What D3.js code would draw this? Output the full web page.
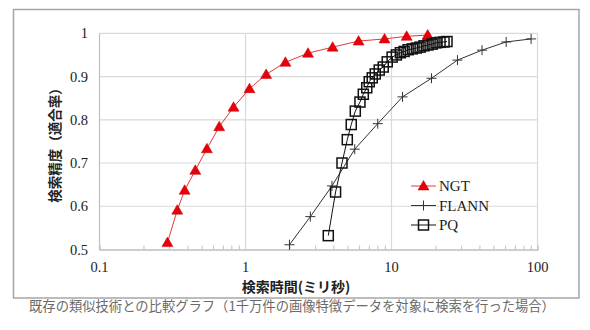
<!DOCTYPE html>
<html>
<head>
<meta charset="utf-8">
<script src="https://cdn.jsdelivr.net/npm/d3@7/dist/d3.min.js"></script>
<style>
  body { margin: 0; background: #fff; }
  svg { display: block; }
</style>
</head>
<body>
<div id="chart"></div>
<script>
// search time (ms) vs precision
var ngtTime = [0.292, 0.341, 0.383, 0.453, 0.544, 0.661, 0.828, 1.065, 1.385, 1.877, 2.68, 3.95, 5.95, 8.96, 12.7, 17.7];
var ngtPrec = [0.516, 0.591, 0.637, 0.683, 0.733, 0.784, 0.829, 0.872, 0.905, 0.933, 0.954, 0.968, 0.982, 0.987, 0.993, 0.996];

var flannTime = [2.0, 2.78, 3.91, 5.6, 8.05, 11.9, 18.8, 28.3, 41.7, 61, 90.4];
var flannPrec = [0.511, 0.576, 0.647, 0.732, 0.791, 0.853, 0.896, 0.938, 0.961, 0.98, 0.987];

var pqTime = [3.69, 4.14, 4.58, 4.98, 5.30, 5.65, 6.08, 6.41, 6.77, 7.04, 7.38, 7.74, 8.24, 8.78, 9.35,
              10.1, 10.8, 11.5, 12.2, 13.0, 13.9, 14.8, 15.7, 16.7, 17.8, 19.0, 20.2, 21.5, 22.9, 24.0];
var pqPrec = [0.532, 0.633, 0.700, 0.754, 0.789, 0.820, 0.841, 0.859, 0.874, 0.888, 0.897, 0.906, 0.915, 0.922, 0.934,
              0.945, 0.950, 0.955, 0.958, 0.962, 0.964, 0.966, 0.968, 0.971, 0.973, 0.975, 0.978, 0.979, 0.980, 0.981];

var xTicks = [0.1, 1, 10, 100];
var yTicks = [0.5, 0.6, 0.7, 0.8, 0.9, 1];
var seriesNames = ["NGT", "FLANN", "PQ"];

var width = 590, height = 330;
var serif = "Liberation Serif";
var gothic = "Noto Sans CJK JP";

var svg = d3.select("#chart").append("svg")
    .attr("width", width)
    .attr("height", height);

// outer frame
svg.append("rect")
    .attr("x", 13.5).attr("y", 9.5)
    .attr("width", 565.5).attr("height", 288.5)
    .attr("fill", "#fff")
    .attr("stroke", "#a6a6a6")
    .attr("stroke-width", 1.5);

var x = d3.scaleLog().domain([0.1, 100]).range([99.5, 537.5]);
var y = d3.scaleLinear().domain([0.5, 1]).range([249.5, 33.3]);

// grid
svg.append("g").selectAll("line")
    .data(yTicks.slice(1))
    .enter().append("line")
    .attr("x1", x(0.1)).attr("x2", x(100))
    .attr("y1", function(d) { return y(d); })
    .attr("y2", function(d) { return y(d); })
    .attr("stroke", "#d9d9d9")
    .attr("stroke-width", 1.2);

svg.append("g").selectAll("line")
    .data(xTicks.slice(1))
    .enter().append("line")
    .attr("x1", function(d) { return x(d); })
    .attr("x2", function(d) { return x(d); })
    .attr("y1", y(1)).attr("y2", y(0.5))
    .attr("stroke", "#d9d9d9")
    .attr("stroke-width", 1.2);

// left axis line
svg.append("line")
    .attr("x1", x(0.1)).attr("x2", x(0.1))
    .attr("y1", y(1)).attr("y2", y(0.5))
    .attr("stroke", "#bfbfbf").attr("stroke-width", 1.2);

// bottom axis with minor ticks pointing up
var minor = [];
[0.1, 1, 10].forEach(function(base) {
    for (var k = 2; k <= 9; k++) minor.push(base * k);
});
var xAxis = d3.axisBottom(x)
    .tickValues(minor)
    .tickSize(-4)
    .tickFormat("");
var gx = svg.append("g")
    .attr("transform", "translate(0," + y(0.5) + ")")
    .call(xAxis);
gx.select(".domain").attr("stroke", "#bfbfbf").attr("stroke-width", 1.4);
gx.selectAll(".tick line").attr("stroke", "#bfbfbf");

// tick labels
svg.append("g").selectAll("text")
    .data(xTicks)
    .enter().append("text")
    .attr("font-family", serif)
    .attr("x", function(d) { return x(d); })
    .attr("y", 272)
    .attr("text-anchor", "middle")
    .attr("font-size", 14.5)
    .attr("fill", "#222")
    .text(function(d) { return d; });

svg.append("g").selectAll("text")
    .data(yTicks)
    .enter().append("text")
    .attr("font-family", serif)
    .attr("x", 88)
    .attr("y", function(d) { return y(d) + 5; })
    .attr("text-anchor", "end")
    .attr("font-size", 14.5)
    .attr("fill", "#222")
    .text(function(d) { return d; });

// axis titles
svg.append("text")
    .attr("font-family", gothic)
    .attr("x", 296).attr("y", 292)
    .attr("text-anchor", "middle")
    .attr("font-weight", "bold")
    .attr("font-size", 14)
    .attr("fill", "#222")
    .text("検索時間(ミリ秒)");

svg.append("text")
    .attr("font-family", gothic)
    .attr("transform", "translate(60,142) rotate(-90)")
    .attr("text-anchor", "middle")
    .attr("font-weight", "bold")
    .attr("font-size", 13.5)
    .attr("fill", "#222")
    .text("検索精度（適合率）");

// caption
svg.append("text")
    .attr("font-family", gothic)
    .attr("x", 292).attr("y", 311)
    .attr("text-anchor", "middle")
    .attr("font-size", 13.3)
    .attr("fill", "#6a6a6a")
    .text("既存の類似技術との比較グラフ（1千万件の画像特徴データを対象に検索を行った場合）");

// markers
function triangle(g, cx, cy) {
    g.append("path")
        .attr("d", "M" + cx + "," + (cy - 5.5) + "L" + (cx + 5.5) + "," + (cy + 4) + "L" + (cx - 5.5) + "," + (cy + 4) + "Z")
        .attr("fill", "#e8000b")
        .attr("stroke", "#c00000")
        .attr("stroke-width", 0.5);
}
function plus(g, cx, cy) {
    g.append("path")
        .attr("d", "M" + (cx - 5) + "," + cy + "H" + (cx + 5) + "M" + cx + "," + (cy - 5) + "V" + (cy + 5))
        .attr("stroke", "#333")
        .attr("stroke-width", 1)
        .attr("fill", "none");
}
function square(g, cx, cy) {
    g.append("rect")
        .attr("x", cx - 5).attr("y", cy - 5)
        .attr("width", 10).attr("height", 10)
        .attr("fill", "none")
        .attr("stroke", "#111")
        .attr("stroke-width", 1.5);
}

var series = [
    { name: seriesNames[0], t: ngtTime, p: ngtPrec, color: "#e03a3a", mark: triangle },
    { name: seriesNames[1], t: flannTime, p: flannPrec, color: "#333", mark: plus },
    { name: seriesNames[2], t: pqTime, p: pqPrec, color: "#111", mark: square }
];

var line = d3.line()
    .x(function(d) { return x(d[0]); })
    .y(function(d) { return y(d[1]); });

series.forEach(function(s) {
    var pts = s.t.map(function(v, i) { return [v, s.p[i]]; });
    var g = svg.append("g");
    g.append("path")
        .datum(pts)
        .attr("d", line)
        .attr("fill", "none")
        .attr("stroke", s.color)
        .attr("stroke-width", 1);
    pts.forEach(function(d) { s.mark(g, x(d[0]), y(d[1])); });
});

// legend
var legend = svg.append("g");
series.forEach(function(s, i) {
    var ly = 186 + i * 19.5;
    legend.append("line")
        .attr("x1", 411).attr("x2", 436)
        .attr("y1", ly).attr("y2", ly)
        .attr("stroke", s.color)
        .attr("stroke-width", 1);
    s.mark(legend, 423.5, ly);
    legend.append("text")
        .attr("font-family", serif)
        .attr("x", 439).attr("y", ly + 5)
        .attr("font-size", 15)
        .attr("fill", "#222")
        .text(s.name);
});
</script>
</body>
</html>
